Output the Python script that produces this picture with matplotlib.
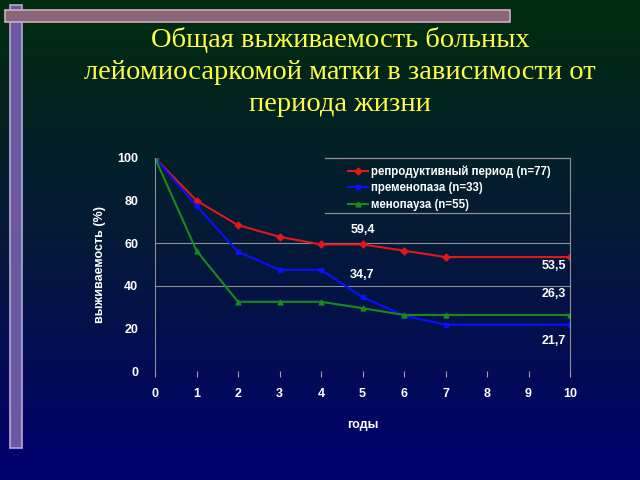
import numpy as np
import matplotlib
matplotlib.use("Agg")
import matplotlib.pyplot as plt
from matplotlib.patches import Rectangle
from matplotlib.lines import Line2D

years = [0, 1, 2, 3, 4, 5, 6, 7, 10]
reproductive = [100, 80, 68.5, 63, 59.4, 59.4, 56.5, 53.5, 53.5]
premenopause = [100, 77.5, 56, 47.5, 47.5, 34.7, 26, 21.7, 21.7]
menopause = [100, 56.5, 32.5, 32.5, 32.5, 29.5, 26.3, 26.3, 26.3]
labels = ["репродуктивный период (n=77)", "пременопаза (n=33)", "менопауза (n=55)"]
annotations = [(5, 59.4, "59,4"), (5, 34.7, "34,7"), (10, 53.5, "53,5"),
               (10, 26.3, "26,3"), (10, 21.7, "21,7")]
title = "Общая выживаемость больных\nлейомиосаркомой матки в зависимости от\nпериода жизни"

fig = plt.figure(figsize=(6.4, 4.8), dpi=100)

# background gradient
bg = fig.add_axes([0, 0, 1, 1])
t = np.linspace(0, 1, 256)[:, None]
top = np.array([0.0, 0.17, 0.05])
mid = np.array([0.02, 0.10, 0.22])
bot = np.array([0.0, 0.0, 0.44])
cols = np.where(t < 0.5, top + (mid - top) * (t / 0.5), mid + (bot - mid) * ((t - 0.5) / 0.5))
img = np.repeat(cols[:, None, :], 2, axis=1).reshape(256, 2, 3)
bg.imshow(img, aspect="auto", extent=[0, 1, 0, 1], origin="upper")
bg.set_xlim(0, 1); bg.set_ylim(0, 1)
bg.axis("off")

# decorative bars
bg.add_patch(Rectangle((10/640, 1-448/480), 12/640, (448-5)/480, facecolor="#6a58a0",
                       edgecolor="#b8a8d8", lw=1.2))
bg.add_patch(Rectangle((5/640, 1-22/480), 505/640, 12/480, facecolor="#8a6478",
                       edgecolor="#c8b0b8", lw=1.2))

fig.text(0.531, 1-72/480, title, ha="center", va="center", color="#ffff44",
         family="Liberation Serif", fontsize=20.5, linespacing=1.36)

ax = fig.add_axes([155/640, 1-371/480, 415/640, 213/480])
ax.patch.set_alpha(0)
ax.plot(years, reproductive, color="#e01818", marker="D", ms=3.5, lw=1.5, label=labels[0])
ax.plot(years, premenopause, color="#0a10ff", marker="s", ms=3.5, lw=1.5, label=labels[1])
ax.plot(years, menopause, color="#1a8a1a", marker="^", ms=3.5, lw=1.5, label=labels[2])
ax.set_xlim(0, 10)
ax.set_ylim(0, 100)
ax.set_xticks(range(11))
ax.set_yticks(range(0, 101, 20))
for y in (40, 60):
    ax.axhline(y, color="#909090", lw=0.8, zorder=0)
for s in ("top", "bottom"):
    ax.spines[s].set_visible(False)
for s in ("left", "right"):
    ax.spines[s].set_color("#909090")
ax.tick_params(axis="x", colors="#a0a0a0", length=4, pad=8, labelcolor="white")
ax.tick_params(axis="y", length=0, pad=12, labelcolor="white")
for lab in ax.get_xticklabels() + ax.get_yticklabels():
    lab.set_fontweight("bold"); lab.set_family("Liberation Sans"); lab.set_fontsize(9)
ax.set_xlabel("годы", color="white", fontweight="bold", family="Liberation Sans",
              fontsize=9, labelpad=14)
ax.set_ylabel("выживаемость (%)", color="white", fontweight="bold",
              family="Liberation Sans", fontsize=9, labelpad=8)

offs = {"59,4": (0, 6.8), "34,7": (0, 10.3), "53,5": (-0.1, -4.2),
        "26,3": (-0.1, 9.9), "21,7": (-0.1, -7.6)}
for x, y, s in annotations:
    dx, dy = offs[s]
    ax.text(x + dx, y + dy, s, color="white", fontweight="bold", family="Liberation Sans",
            fontsize=9, ha="center" if x == 5 else "right", va="center")

# legend frame lines (top and bottom) as in reference
lx0 = (325 - 155) / 415
ly0 = (371 - 213) / 213
for yy in (1.0, ly0):
    ax.add_line(Line2D([lx0, 1.0], [yy, yy], transform=ax.transAxes, color="#909090",
                       lw=0.9, clip_on=False))
leg = ax.legend(loc="upper left", bbox_to_anchor=((338 - 155) / 415, 1.015), frameon=False,
                prop={"family": "Liberation Sans", "weight": "bold", "size": 8.3},
                labelcolor="white", handlelength=1.7, borderpad=0.4, labelspacing=0.4,
                handletextpad=0.3)

fig.savefig("out.png", dpi=100)
